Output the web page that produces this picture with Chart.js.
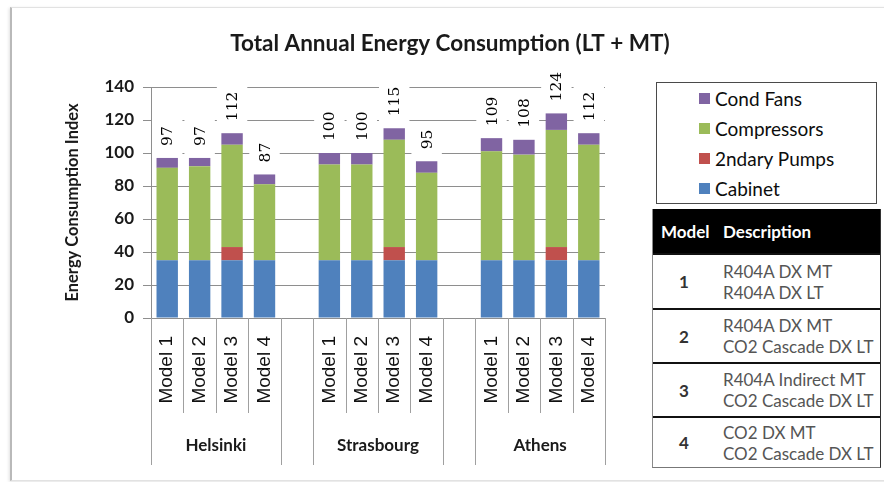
<!DOCTYPE html>
<html>
<head>
<meta charset="utf-8">
<script src="https://cdn.jsdelivr.net/npm/chart.js@4/dist/chart.umd.min.js"></script>
<style>
  html, body { margin: 0; padding: 0; background: #fff; }
  body { width: 884px; height: 482px; position: relative; overflow: hidden; font-family: Lato, "Open Sans", sans-serif; }
  #frame { position: absolute; left: 10px; top: 7px; width: 900px; height: 472px;
           border: 1px solid #e2e2e2; border-left: 2px solid #b9b9b9;
           box-shadow: -1px 1px 3px rgba(0,0,0,0.12); }
  #chart { position: absolute; left: 0; top: 0; }
  #legend { position: absolute; left: 656px; top: 82px; width: 219px; height: 120px;
            border: 1.5px solid #4a4a4a; background: #fff; }
  .lg-item { height: 30px; display: flex; align-items: center; padding-left: 42px;
             font-size: 19px; color: #0d0d0d; }
  .lg-item i { display: inline-block; width: 11px; height: 11px; margin-right: 5px; }
  #models { position: absolute; left: 652px; top: 209px; width: 227px;
            border-left: 1px solid #8a8a8a; border-right: 1.5px solid #333; border-bottom: 1.5px solid #777;
            background: #fff; }
  .mh { height: 44px; background: #000; color: #fff; font-weight: bold; font-size: 17px;
        display: flex; align-items: center; }
  .mh span:first-child { width: 62px; padding-left: 8px; box-sizing: border-box; }
  .mh span:last-child { padding-left: 8px; }
  .mr { display: flex; align-items: center; border-top: 2px solid #111; box-sizing: border-box; }
  .mr .n { width: 62px; text-align: center; font-weight: bold; font-size: 17px; color: #333; }
  .mr .d { padding-left: 8px; font-size: 17px; line-height: 21px; color: #555; white-space: nowrap; }
</style>
</head>
<body>
<div id="frame"></div>
<canvas id="chart" width="884" height="482"></canvas>
<div id="legend"></div>
<div id="models"></div>
<script>
// Sites and refrigeration models compared
const cities = ['Helsinki', 'Strasbourg', 'Athens'];
const models = ['Model 1', 'Model 2', 'Model 3', 'Model 4'];

// Energy consumption index per component, city by city, Model 1..4
const cabinet     = [35, 35, 35, 35,   35, 35, 35, 35,   35, 35, 35, 35];
const pumps       = [ 0,  0,  8,  0,    0,  0,  8,  0,    0,  0,  8,  0];
const compressors = [56, 57, 62, 46,   58, 58, 65, 53,   66, 64, 71, 70];
const condFans    = [ 6,  5,  7,  6,    7,  7,  7,  7,    8,  9, 10,  7];

// Value axis
const yMin = 0, yMax = 140, yStep = 20;

// Model description table
const modelNumbers = ['1', '2', '3', '4'];
const modelDescriptions = [
  ['R404A DX MT', 'R404A DX LT'],
  ['R404A DX MT', 'CO2 Cascade DX LT'],
  ['R404A Indirect MT', 'CO2 Cascade DX LT'],
  ['CO2 DX MT', 'CO2 Cascade DX LT']
];
const rowHeights = [55, 54, 54, 51];

const chartTitle = 'Total Annual Energy Consumption (LT + MT)';

// Category slots: four models per city, with an empty slot between cities
const labels = [], slotCity = [], slotIndex = [];
cities.forEach((c, ci) => {
  models.forEach((m, mi) => {
    labels.push(m); slotCity.push(ci); slotIndex.push(ci * models.length + mi);
  });
  if (ci < cities.length - 1) { labels.push(''); slotCity.push(-1); slotIndex.push(-1); }
});
const toSlots = arr => slotIndex.map(k => (k < 0 ? null : (arr[k] === 0 ? null : arr[k])));

const FONT = 'Lato, "Open Sans", sans-serif';
const gridGrey = '#8e8e8e';

const decor = {
  id: 'decor',
  afterDatasetsDraw(chart) {
    const ctx = chart.ctx, xs = chart.scales.x, ys = chart.scales.y;
    const w = xs.getPixelForValue(1) - xs.getPixelForValue(0);

    // Totals above each stack, on a white label box
    ctx.save();
    ctx.font = '15.5px "DejaVu Serif", serif';
    labels.forEach((lab, i) => {
      const k = slotIndex[i];
      if (k < 0) return;
      const total = cabinet[k] + pumps[k] + compressors[k] + condFans[k];
      const x = xs.getPixelForValue(i);
      const top = ys.getPixelForValue(total);
      const txt = String(total);
      const tw = ctx.measureText(txt).width;
      const base = top - 12;
      ctx.fillStyle = '#fff';
      ctx.fillRect(x - w / 2 + 1, base - tw - 7, w - 2, top - 1 - (base - tw - 7));
      ctx.fillStyle = '#000';
      ctx.save();
      ctx.translate(x + 1, base);
      ctx.rotate(-Math.PI / 2);
      ctx.textAlign = 'left';
      ctx.textBaseline = 'middle';
      ctx.fillText(txt, 0, 0);
      ctx.restore();
    });
    ctx.restore();
  },
  afterDraw(chart) {
    const ctx = chart.ctx, xs = chart.scales.x;
    const n = labels.length;
    const y0 = xs.top;

    // Category separators below the axis
    ctx.save();
    ctx.strokeStyle = '#a0a0a0';
    ctx.lineWidth = 1;
    for (let k = 0; k <= n; k++) {
      const x = Math.round(xs.getPixelForValue(k - 0.5)) + 0.5;
      const long = k === 0 || k === n || slotCity[k - 1] === -1 || slotCity[k] === -1;
      ctx.beginPath();
      ctx.moveTo(x, y0);
      ctx.lineTo(x, y0 + (long ? 147 : 95));
      ctx.stroke();
    }
    ctx.restore();

    // City names under each group of models
    ctx.save();
    ctx.font = 'bold 17px ' + FONT;
    ctx.fillStyle = '#1a1a1a';
    ctx.textAlign = 'center';
    ctx.textBaseline = 'middle';
    cities.forEach((c, ci) => {
      const idx = slotCity.map((v, i) => (v === ci ? i : -1)).filter(i => i >= 0);
      const cx = (xs.getPixelForValue(idx[0]) + xs.getPixelForValue(idx[idx.length - 1])) / 2;
      ctx.fillText(c, cx, y0 + 128);
    });
    ctx.restore();

    // Chart title
    ctx.save();
    ctx.font = 'bold 22.5px ' + FONT;
    ctx.fillStyle = '#1a1a1a';
    ctx.textAlign = 'center';
    ctx.textBaseline = 'middle';
    ctx.fillText(chartTitle, 450, 44);
    ctx.restore();
  }
};

const chart = new Chart(document.getElementById('chart'), {
  type: 'bar',
  data: {
    labels: labels,
    datasets: [
      { label: 'Cabinet',      data: toSlots(cabinet),     backgroundColor: '#4F81BD' },
      { label: '2ndary Pumps', data: toSlots(pumps),       backgroundColor: '#C0504D' },
      { label: 'Compressors',  data: toSlots(compressors), backgroundColor: '#9BBB59' },
      { label: 'Cond Fans',    data: toSlots(condFans),    backgroundColor: '#8064A2' }
    ]
  },
  options: {
    responsive: false,
    animation: false,
    devicePixelRatio: 1,
    layout: { padding: { top: 87, right: 279, bottom: 0, left: 0 } },
    datasets: { bar: { categoryPercentage: 0.66, barPercentage: 1, borderWidth: 0 } },
    plugins: { legend: { display: false }, tooltip: { enabled: false }, title: { display: false } },
    scales: {
      x: {
        stacked: true,
        grid: { display: false, drawTicks: false },
        border: { display: true, color: gridGrey, width: 1 },
        ticks: { autoSkip: false, minRotation: 90, maxRotation: 90, padding: 18,
                 font: { family: '"Liberation Sans", Arial, sans-serif', size: 19 }, color: '#111' },
        afterFit(s) { s.height = 164; }
      },
      y: {
        stacked: true,
        min: yMin, max: yMax,
        ticks: { stepSize: yStep, padding: 9, font: { family: FONT, size: 17, weight: 'bold' }, color: '#1a1a1a' },
        grid: { color: gridGrey, tickLength: 8, drawTicks: true },
        border: { display: true, color: gridGrey },
        title: { display: true, text: 'Energy Consumption Index',
                 font: { family: FONT, size: 16.5, weight: 'bold' }, color: '#1a1a1a',
                 padding: { top: 63, bottom: 0 } },
        afterFit(s) { s.width = 151; }
      }
    }
  },
  plugins: [decor]
});

// Legend built from the chart's series, top series first
const legendEl = document.getElementById('legend');
chart.data.datasets.slice().reverse().forEach(ds => {
  const row = document.createElement('div');
  row.className = 'lg-item';
  const sw = document.createElement('i');
  sw.style.background = ds.backgroundColor;
  row.appendChild(sw);
  row.appendChild(document.createTextNode(ds.label));
  legendEl.appendChild(row);
});

// Model description table
const tbl = document.getElementById('models');
const head = document.createElement('div');
head.className = 'mh';
head.innerHTML = '<span>Model</span><span>Description</span>';
tbl.appendChild(head);
modelNumbers.forEach((num, i) => {
  const r = document.createElement('div');
  r.className = 'mr';
  r.style.height = rowHeights[i] + 'px';
  const n = document.createElement('div'); n.className = 'n'; n.textContent = num;
  const d = document.createElement('div'); d.className = 'd';
  d.innerHTML = modelDescriptions[i].join('<br>');
  r.appendChild(n); r.appendChild(d);
  tbl.appendChild(r);
});
</script>
</body>
</html>
